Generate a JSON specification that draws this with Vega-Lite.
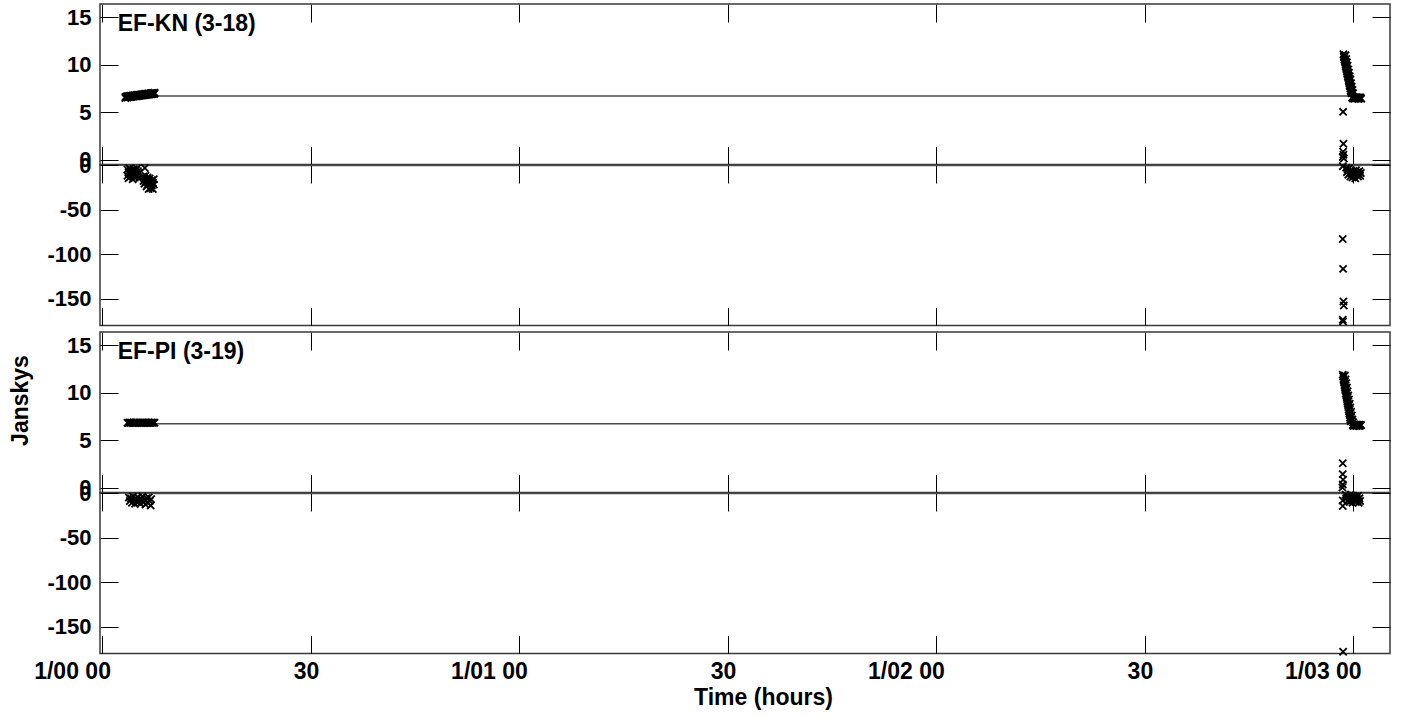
{
"$schema": "https://vega.github.io/schema/vega-lite/v6.json",
"background": "white",
"padding": {"left": 8, "top": 2, "right": 5, "bottom": 0},
"config": {
  "font": "Liberation Sans",
  "view": {"stroke": "#3a3a3a", "strokeWidth": 1.5},
  "axis": {"labelFont": "Liberation Sans", "labelFontWeight": "bold", "labelFontSize": 22, "labelColor": "black", "tickColor": "black", "tickWidth": 1, "tickSize": -18, "domain": false, "grid": false, "titleFont": "Liberation Sans", "titleFontWeight": "bold", "titleFontSize": 23, "titleColor": "black", "labelOverlap": false, "labelFlush": false, "labelBound": false}
},
"datasets": {
  "labels": [{"p": "KN", "t": 2.2, "v": 14.26, "label": "EF-KN (3-18)"}, {"p": "PI", "t": 2.2, "v": 14.26, "label": "EF-PI (3-19)"}],
  "model": [
    {"p": "KN", "k": "a", "t": 3.3, "v": 6.72}, {"p": "KN", "k": "a", "t": 181.2, "v": 6.72},
    {"p": "KN", "k": "p", "t": 3.3, "v": -0.5}, {"p": "KN", "k": "p", "t": 181.2, "v": -0.5},
    {"p": "PI", "k": "a", "t": 3.6, "v": 6.73}, {"p": "PI", "k": "a", "t": 181.2, "v": 6.73},
    {"p": "PI", "k": "p", "t": 3.6, "v": -0.5}, {"p": "PI", "k": "p", "t": 181.2, "v": -0.5}
  ],
  "pts": [
    {"p":"KN","k":"a","t":3.3,"v":6.5},{"p":"KN","k":"a","t":3.3,"v":6.62},
    {"p":"KN","k":"a","t":3.45,"v":6.58},{"p":"KN","k":"a","t":3.45,"v":6.66},
    {"p":"KN","k":"a","t":3.6,"v":6.55},{"p":"KN","k":"a","t":3.6,"v":6.7},
    {"p":"KN","k":"a","t":3.75,"v":6.6},{"p":"KN","k":"a","t":3.75,"v":6.68},
    {"p":"KN","k":"a","t":3.9,"v":6.62},{"p":"KN","k":"a","t":3.9,"v":6.72},
    {"p":"KN","k":"a","t":4.05,"v":6.6},{"p":"KN","k":"a","t":4.05,"v":6.74},
    {"p":"KN","k":"a","t":4.2,"v":6.64},{"p":"KN","k":"a","t":4.2,"v":6.72},
    {"p":"KN","k":"a","t":4.35,"v":6.66},{"p":"KN","k":"a","t":4.35,"v":6.76},
    {"p":"KN","k":"a","t":4.5,"v":6.65},{"p":"KN","k":"a","t":4.5,"v":6.78},
    {"p":"KN","k":"a","t":4.65,"v":6.68},{"p":"KN","k":"a","t":4.65,"v":6.8},
    {"p":"KN","k":"a","t":4.8,"v":6.7},{"p":"KN","k":"a","t":4.8,"v":6.78},
    {"p":"KN","k":"a","t":4.95,"v":6.7},{"p":"KN","k":"a","t":4.95,"v":6.82},
    {"p":"KN","k":"a","t":5.1,"v":6.72},{"p":"KN","k":"a","t":5.1,"v":6.84},
    {"p":"KN","k":"a","t":5.25,"v":6.74},{"p":"KN","k":"a","t":5.25,"v":6.82},
    {"p":"KN","k":"a","t":5.4,"v":6.75},{"p":"KN","k":"a","t":5.4,"v":6.86},
    {"p":"KN","k":"a","t":5.55,"v":6.76},{"p":"KN","k":"a","t":5.55,"v":6.88},
    {"p":"KN","k":"a","t":5.7,"v":6.78},{"p":"KN","k":"a","t":5.7,"v":6.9},
    {"p":"KN","k":"a","t":5.85,"v":6.8},{"p":"KN","k":"a","t":5.85,"v":6.88},
    {"p":"KN","k":"a","t":6.0,"v":6.8},{"p":"KN","k":"a","t":6.0,"v":6.92},
    {"p":"KN","k":"a","t":6.15,"v":6.82},{"p":"KN","k":"a","t":6.15,"v":6.94},
    {"p":"KN","k":"a","t":6.3,"v":6.84},{"p":"KN","k":"a","t":6.3,"v":6.92},
    {"p":"KN","k":"a","t":6.45,"v":6.85},{"p":"KN","k":"a","t":6.45,"v":6.96},
    {"p":"KN","k":"a","t":6.6,"v":6.86},{"p":"KN","k":"a","t":6.6,"v":6.98},
    {"p":"KN","k":"a","t":6.75,"v":6.88},{"p":"KN","k":"a","t":6.75,"v":6.96},
    {"p":"KN","k":"a","t":6.9,"v":6.9},{"p":"KN","k":"a","t":6.9,"v":7.0},
    {"p":"KN","k":"a","t":7.05,"v":6.9},{"p":"KN","k":"a","t":7.05,"v":7.02},
    {"p":"KN","k":"a","t":7.2,"v":6.92},{"p":"KN","k":"a","t":7.2,"v":7.04},
    {"p":"KN","k":"a","t":7.35,"v":6.94},{"p":"KN","k":"a","t":7.35,"v":7.02},
    {"p":"KN","k":"a","t":7.5,"v":6.95},{"p":"KN","k":"a","t":7.5,"v":7.05},

    {"p":"KN","k":"a","t":178.6,"v":11.1},{"p":"KN","k":"a","t":178.65,"v":10.9},{"p":"KN","k":"a","t":178.7,"v":10.75},{"p":"KN","k":"a","t":178.75,"v":10.55},
    {"p":"KN","k":"a","t":178.8,"v":10.4},{"p":"KN","k":"a","t":178.85,"v":10.2},{"p":"KN","k":"a","t":178.9,"v":10.0},{"p":"KN","k":"a","t":178.95,"v":9.85},
    {"p":"KN","k":"a","t":179.0,"v":9.65},{"p":"KN","k":"a","t":179.05,"v":9.5},{"p":"KN","k":"a","t":179.1,"v":9.3},{"p":"KN","k":"a","t":179.15,"v":9.1},
    {"p":"KN","k":"a","t":179.2,"v":8.95},{"p":"KN","k":"a","t":179.25,"v":8.75},{"p":"KN","k":"a","t":179.3,"v":8.6},{"p":"KN","k":"a","t":179.35,"v":8.4},
    {"p":"KN","k":"a","t":179.4,"v":8.2},{"p":"KN","k":"a","t":179.45,"v":8.05},{"p":"KN","k":"a","t":179.5,"v":7.85},{"p":"KN","k":"a","t":179.55,"v":7.7},
    {"p":"KN","k":"a","t":179.6,"v":7.5},{"p":"KN","k":"a","t":179.65,"v":7.3},{"p":"KN","k":"a","t":179.7,"v":7.15},{"p":"KN","k":"a","t":179.75,"v":7.0},
    {"p":"KN","k":"a","t":178.9,"v":11.0},{"p":"KN","k":"a","t":179.0,"v":10.6},{"p":"KN","k":"a","t":179.1,"v":10.25},{"p":"KN","k":"a","t":179.2,"v":9.9},
    {"p":"KN","k":"a","t":179.3,"v":9.5},{"p":"KN","k":"a","t":179.4,"v":9.15},{"p":"KN","k":"a","t":179.5,"v":8.8},{"p":"KN","k":"a","t":179.6,"v":8.45},
    {"p":"KN","k":"a","t":179.7,"v":8.05},{"p":"KN","k":"a","t":179.8,"v":7.7},{"p":"KN","k":"a","t":179.9,"v":7.35},{"p":"KN","k":"a","t":180.0,"v":7.0},
    {"p":"KN","k":"a","t":179.85,"v":6.55},{"p":"KN","k":"a","t":179.95,"v":6.45},{"p":"KN","k":"a","t":180.05,"v":6.6},{"p":"KN","k":"a","t":180.15,"v":6.42},
    {"p":"KN","k":"a","t":180.25,"v":6.55},{"p":"KN","k":"a","t":180.35,"v":6.48},{"p":"KN","k":"a","t":180.45,"v":6.6},{"p":"KN","k":"a","t":180.55,"v":6.45},
    {"p":"KN","k":"a","t":180.65,"v":6.55},{"p":"KN","k":"a","t":180.75,"v":6.4},{"p":"KN","k":"a","t":180.85,"v":6.58},{"p":"KN","k":"a","t":180.95,"v":6.47},
    {"p":"KN","k":"a","t":181.05,"v":6.55},{"p":"KN","k":"a","t":181.15,"v":6.43},
    {"p":"KN","k":"a","t":178.55,"v":5.05},{"p":"KN","k":"a","t":178.6,"v":1.7},{"p":"KN","k":"a","t":178.55,"v":0.85},{"p":"KN","k":"a","t":178.6,"v":0.55},
    {"p":"KN","k":"a","t":178.5,"v":0.3},{"p":"KN","k":"a","t":178.65,"v":0.15},

    {"p":"KN","k":"p","t":3.6,"v":-5},{"p":"KN","k":"p","t":3.6,"v":-12},
    {"p":"KN","k":"p","t":3.75,"v":-8},{"p":"KN","k":"p","t":3.75,"v":-15},
    {"p":"KN","k":"p","t":3.9,"v":-4},{"p":"KN","k":"p","t":3.9,"v":-10},
    {"p":"KN","k":"p","t":4.05,"v":-7},{"p":"KN","k":"p","t":4.05,"v":-13},
    {"p":"KN","k":"p","t":4.2,"v":-6},{"p":"KN","k":"p","t":4.2,"v":-11},
    {"p":"KN","k":"p","t":4.35,"v":-9},{"p":"KN","k":"p","t":4.35,"v":-16},
    {"p":"KN","k":"p","t":4.5,"v":-5},{"p":"KN","k":"p","t":4.5,"v":-12},
    {"p":"KN","k":"p","t":4.65,"v":-8},{"p":"KN","k":"p","t":4.65,"v":-14},
    {"p":"KN","k":"p","t":4.8,"v":-6},{"p":"KN","k":"p","t":4.8,"v":-10},
    {"p":"KN","k":"p","t":4.95,"v":-4},{"p":"KN","k":"p","t":4.95,"v":-13},
    {"p":"KN","k":"p","t":5.1,"v":-7},{"p":"KN","k":"p","t":5.1,"v":-11},
    {"p":"KN","k":"p","t":5.25,"v":-9},{"p":"KN","k":"p","t":5.25,"v":-15},
    {"p":"KN","k":"p","t":6.1,"v":-3.4},
    {"p":"KN","k":"p","t":5.9,"v":-13},{"p":"KN","k":"p","t":5.9,"v":-18},
    {"p":"KN","k":"p","t":6.05,"v":-15},{"p":"KN","k":"p","t":6.05,"v":-21},
    {"p":"KN","k":"p","t":6.2,"v":-12},{"p":"KN","k":"p","t":6.2,"v":-19},
    {"p":"KN","k":"p","t":6.35,"v":-16},{"p":"KN","k":"p","t":6.35,"v":-24},
    {"p":"KN","k":"p","t":6.5,"v":-14},{"p":"KN","k":"p","t":6.5,"v":-22},
    {"p":"KN","k":"p","t":6.65,"v":-18},{"p":"KN","k":"p","t":6.65,"v":-27},
    {"p":"KN","k":"p","t":6.8,"v":-15},{"p":"KN","k":"p","t":6.8,"v":-21},
    {"p":"KN","k":"p","t":6.95,"v":-19},{"p":"KN","k":"p","t":6.95,"v":-26},
    {"p":"KN","k":"p","t":7.1,"v":-17},{"p":"KN","k":"p","t":7.1,"v":-23},
    {"p":"KN","k":"p","t":7.25,"v":-20},{"p":"KN","k":"p","t":7.25,"v":-27},
    {"p":"KN","k":"p","t":7.4,"v":-16},{"p":"KN","k":"p","t":7.4,"v":-22},
    {"p":"KN","k":"p","t":179.0,"v":-3},{"p":"KN","k":"p","t":179.1,"v":-8},{"p":"KN","k":"p","t":179.2,"v":-5},{"p":"KN","k":"p","t":179.3,"v":-11},
    {"p":"KN","k":"p","t":179.4,"v":-4},{"p":"KN","k":"p","t":179.5,"v":-9},{"p":"KN","k":"p","t":179.6,"v":-13},{"p":"KN","k":"p","t":179.7,"v":-6},
    {"p":"KN","k":"p","t":179.8,"v":-10},{"p":"KN","k":"p","t":179.9,"v":-14},{"p":"KN","k":"p","t":180.0,"v":-7},{"p":"KN","k":"p","t":180.1,"v":-12},
    {"p":"KN","k":"p","t":180.2,"v":-9},{"p":"KN","k":"p","t":180.3,"v":-15},{"p":"KN","k":"p","t":180.4,"v":-6},{"p":"KN","k":"p","t":180.5,"v":-11},
    {"p":"KN","k":"p","t":180.6,"v":-8},{"p":"KN","k":"p","t":180.7,"v":-13},{"p":"KN","k":"p","t":180.8,"v":-10},{"p":"KN","k":"p","t":180.9,"v":-7},
    {"p":"KN","k":"p","t":181.0,"v":-12},{"p":"KN","k":"p","t":181.1,"v":-9},
    {"p":"KN","k":"p","t":178.5,"v":-1.5},{"p":"KN","k":"p","t":178.5,"v":-83},{"p":"KN","k":"p","t":178.55,"v":-116.5},{"p":"KN","k":"p","t":178.6,"v":-153},
    {"p":"KN","k":"p","t":178.65,"v":-157.5},{"p":"KN","k":"p","t":178.5,"v":-173.5},{"p":"KN","k":"p","t":178.55,"v":-175.5},

    {"p":"PI","k":"a","t":3.6,"v":6.85},{"p":"PI","k":"a","t":3.75,"v":6.82},{"p":"PI","k":"a","t":3.9,"v":6.88},{"p":"PI","k":"a","t":4.05,"v":6.84},
    {"p":"PI","k":"a","t":4.2,"v":6.86},{"p":"PI","k":"a","t":4.35,"v":6.83},{"p":"PI","k":"a","t":4.5,"v":6.87},{"p":"PI","k":"a","t":4.65,"v":6.85},
    {"p":"PI","k":"a","t":4.8,"v":6.82},{"p":"PI","k":"a","t":4.95,"v":6.88},{"p":"PI","k":"a","t":5.1,"v":6.84},{"p":"PI","k":"a","t":5.25,"v":6.86},
    {"p":"PI","k":"a","t":5.4,"v":6.83},{"p":"PI","k":"a","t":5.55,"v":6.87},{"p":"PI","k":"a","t":5.7,"v":6.85},{"p":"PI","k":"a","t":5.85,"v":6.82},
    {"p":"PI","k":"a","t":6.0,"v":6.88},{"p":"PI","k":"a","t":6.15,"v":6.84},{"p":"PI","k":"a","t":6.3,"v":6.86},{"p":"PI","k":"a","t":6.45,"v":6.83},
    {"p":"PI","k":"a","t":6.6,"v":6.87},{"p":"PI","k":"a","t":6.75,"v":6.85},{"p":"PI","k":"a","t":6.9,"v":6.82},{"p":"PI","k":"a","t":7.05,"v":6.88},
    {"p":"PI","k":"a","t":7.2,"v":6.84},{"p":"PI","k":"a","t":7.35,"v":6.86},{"p":"PI","k":"a","t":7.5,"v":6.85},
    {"p":"PI","k":"a","t":178.5,"v":11.9},{"p":"PI","k":"a","t":178.55,"v":11.7},{"p":"PI","k":"a","t":178.6,"v":11.45},{"p":"PI","k":"a","t":178.65,"v":11.25},
    {"p":"PI","k":"a","t":178.7,"v":11.05},{"p":"PI","k":"a","t":178.75,"v":10.8},{"p":"PI","k":"a","t":178.8,"v":10.6},{"p":"PI","k":"a","t":178.85,"v":10.4},
    {"p":"PI","k":"a","t":178.9,"v":10.2},{"p":"PI","k":"a","t":178.95,"v":9.95},{"p":"PI","k":"a","t":179.0,"v":9.75},{"p":"PI","k":"a","t":179.05,"v":9.55},
    {"p":"PI","k":"a","t":179.1,"v":9.35},{"p":"PI","k":"a","t":179.15,"v":9.1},{"p":"PI","k":"a","t":179.2,"v":8.9},{"p":"PI","k":"a","t":179.25,"v":8.7},
    {"p":"PI","k":"a","t":179.3,"v":8.5},{"p":"PI","k":"a","t":179.35,"v":8.25},{"p":"PI","k":"a","t":179.4,"v":8.05},{"p":"PI","k":"a","t":179.45,"v":7.85},
    {"p":"PI","k":"a","t":179.5,"v":7.65},{"p":"PI","k":"a","t":179.55,"v":7.4},{"p":"PI","k":"a","t":179.6,"v":7.2},{"p":"PI","k":"a","t":179.65,"v":7.0},
    {"p":"PI","k":"a","t":178.8,"v":11.8},{"p":"PI","k":"a","t":178.9,"v":11.4},{"p":"PI","k":"a","t":179.0,"v":11.0},{"p":"PI","k":"a","t":179.1,"v":10.55},
    {"p":"PI","k":"a","t":179.2,"v":10.15},{"p":"PI","k":"a","t":179.3,"v":9.7},{"p":"PI","k":"a","t":179.4,"v":9.3},{"p":"PI","k":"a","t":179.5,"v":8.85},
    {"p":"PI","k":"a","t":179.6,"v":8.45},{"p":"PI","k":"a","t":179.7,"v":8.0},{"p":"PI","k":"a","t":179.8,"v":7.6},{"p":"PI","k":"a","t":179.9,"v":7.2},
    {"p":"PI","k":"a","t":180.0,"v":6.9},
    {"p":"PI","k":"a","t":179.95,"v":6.6},{"p":"PI","k":"a","t":180.05,"v":6.5},{"p":"PI","k":"a","t":180.15,"v":6.68},{"p":"PI","k":"a","t":180.25,"v":6.55},
    {"p":"PI","k":"a","t":180.35,"v":6.62},{"p":"PI","k":"a","t":180.45,"v":6.5},{"p":"PI","k":"a","t":180.55,"v":6.66},{"p":"PI","k":"a","t":180.65,"v":6.55},
    {"p":"PI","k":"a","t":180.75,"v":6.6},{"p":"PI","k":"a","t":180.85,"v":6.5},{"p":"PI","k":"a","t":180.95,"v":6.65},{"p":"PI","k":"a","t":181.05,"v":6.55},
    {"p":"PI","k":"a","t":181.15,"v":6.6},
    {"p":"PI","k":"a","t":178.5,"v":2.6},{"p":"PI","k":"a","t":178.5,"v":1.45},{"p":"PI","k":"a","t":178.55,"v":0.85},{"p":"PI","k":"a","t":178.5,"v":0.35},
    {"p":"PI","k":"a","t":178.45,"v":0.05},

    {"p":"PI","k":"p","t":3.8,"v":-5},{"p":"PI","k":"p","t":3.95,"v":-9},{"p":"PI","k":"p","t":4.1,"v":-6},{"p":"PI","k":"p","t":4.25,"v":-11},
    {"p":"PI","k":"p","t":4.4,"v":-4},{"p":"PI","k":"p","t":4.55,"v":-8},{"p":"PI","k":"p","t":4.7,"v":-12},{"p":"PI","k":"p","t":4.85,"v":-6},
    {"p":"PI","k":"p","t":5.0,"v":-10},{"p":"PI","k":"p","t":5.15,"v":-5},{"p":"PI","k":"p","t":5.3,"v":-9},{"p":"PI","k":"p","t":5.45,"v":-12},
    {"p":"PI","k":"p","t":5.6,"v":-7},{"p":"PI","k":"p","t":5.75,"v":-4},{"p":"PI","k":"p","t":5.9,"v":-10},{"p":"PI","k":"p","t":6.05,"v":-8},
    {"p":"PI","k":"p","t":6.2,"v":-13},{"p":"PI","k":"p","t":6.35,"v":-6},{"p":"PI","k":"p","t":6.5,"v":-11},{"p":"PI","k":"p","t":6.65,"v":-5},
    {"p":"PI","k":"p","t":6.8,"v":-9},{"p":"PI","k":"p","t":6.95,"v":-14},{"p":"PI","k":"p","t":7.0,"v":-7},
    {"p":"PI","k":"p","t":178.9,"v":-2},{"p":"PI","k":"p","t":179.0,"v":-6},{"p":"PI","k":"p","t":179.1,"v":-3},{"p":"PI","k":"p","t":179.2,"v":-9},
    {"p":"PI","k":"p","t":179.3,"v":-4},{"p":"PI","k":"p","t":179.4,"v":-7},{"p":"PI","k":"p","t":179.5,"v":-10},{"p":"PI","k":"p","t":179.6,"v":-2},
    {"p":"PI","k":"p","t":179.7,"v":-8},{"p":"PI","k":"p","t":179.8,"v":-5},{"p":"PI","k":"p","t":179.9,"v":-11},{"p":"PI","k":"p","t":180.0,"v":-3},
    {"p":"PI","k":"p","t":180.1,"v":-7},{"p":"PI","k":"p","t":180.2,"v":-9},{"p":"PI","k":"p","t":180.3,"v":-4},{"p":"PI","k":"p","t":180.4,"v":-10},
    {"p":"PI","k":"p","t":180.5,"v":-6},{"p":"PI","k":"p","t":180.6,"v":-8},{"p":"PI","k":"p","t":180.7,"v":-3},{"p":"PI","k":"p","t":180.8,"v":-11},
    {"p":"PI","k":"p","t":180.9,"v":-6},{"p":"PI","k":"p","t":181.0,"v":-9},
    {"p":"PI","k":"p","t":178.5,"v":-8.5},{"p":"PI","k":"p","t":178.5,"v":-14.5},{"p":"PI","k":"p","t":178.55,"v":-178}
  ]
},
"spacing": 0,
"vconcat": [
  {"spacing": 0, "bounds": "flush", "vconcat": [
    {"width": 1290, "height": 160.5,
     "resolve": {"axis": {"x": "independent", "y": "independent"}},
     "layer": [
       {"data": {"name": "model"}, "transform": [{"filter": "datum.p === 'KN' && datum.k === 'a'"}],
        "mark": {"type": "line", "color": "#4a4a4a", "strokeWidth": 1.5},
        "encoding": {
          "x": {"field": "t", "type": "quantitative", "scale": {"domain": [-0.35, 185.3], "nice": false, "zero": false}, "axis": {"orient": "top", "values": [0,30,60,90,120,150,180], "labels": false, "title": null}},
          "y": {"field": "v", "type": "quantitative", "scale": {"domain": [-0.48, 16.38], "nice": false, "zero": false}, "axis": {"orient": "right", "values": [0,5,10,15], "labels": false, "title": null}}}},
       {"data": {"name": "pts"}, "transform": [{"filter": "datum.p === 'KN' && datum.k === 'a'"}],
        "mark": {"type": "point", "shape": "M-1,-1L1,1M-1,1L1,-1", "filled": false, "color": "black", "strokeWidth": 1.8, "size": 52, "opacity": 1},
        "encoding": {
          "x": {"field": "t", "type": "quantitative", "scale": {"domain": [-0.35, 185.3], "nice": false, "zero": false}, "axis": {"orient": "bottom", "values": [0,30,60,90,120,150,180], "labels": false, "title": null}},
          "y": {"field": "v", "type": "quantitative", "scale": {"domain": [-0.48, 16.38], "nice": false, "zero": false}, "axis": {"orient": "left", "values": [0,5,10,15], "labelExpr": "'' + datum.value", "labelPadding": 27, "title": null}}}},
       {"data": {"name": "labels"}, "transform": [{"filter": "datum.p === 'KN'"}],
        "mark": {"type": "text", "align": "left", "baseline": "middle", "font": "Liberation Sans", "fontWeight": "bold", "fontSize": 23, "color": "black"},
        "encoding": {
          "x": {"field": "t", "type": "quantitative", "scale": {"domain": [-0.35, 185.3], "nice": false, "zero": false}, "axis": null},
          "y": {"field": "v", "type": "quantitative", "scale": {"domain": [-0.48, 16.38], "nice": false, "zero": false}, "axis": null},
          "text": {"field": "label"}}}
     ]},
    {"width": 1290, "height": 160.5,
     "resolve": {"axis": {"x": "independent", "y": "independent"}},
     "layer": [
       {"data": {"name": "model"}, "transform": [{"filter": "datum.p === 'KN' && datum.k === 'p'"}],
        "mark": {"type": "line", "color": "#4a4a4a", "strokeWidth": 1.5},
        "encoding": {
          "x": {"field": "t", "type": "quantitative", "scale": {"domain": [-0.35, 185.3], "nice": false, "zero": false}, "axis": {"orient": "top", "values": [0,30,60,90,120,150,180], "labels": false, "title": null}},
          "y": {"field": "v", "type": "quantitative", "scale": {"domain": [-180, 0], "nice": false, "zero": false}, "axis": {"orient": "right", "values": [-150,-100,-50,0], "labels": false, "title": null}}}},
       {"data": {"name": "pts"}, "transform": [{"filter": "datum.p === 'KN' && datum.k === 'p'"}],
        "mark": {"type": "point", "shape": "M-1,-1L1,1M-1,1L1,-1", "filled": false, "color": "black", "strokeWidth": 1.8, "size": 52, "opacity": 1},
        "encoding": {
          "x": {"field": "t", "type": "quantitative", "scale": {"domain": [-0.35, 185.3], "nice": false, "zero": false}, "axis": {"orient": "bottom", "values": [0,30,60,90,120,150,180], "labels": false, "title": null}},
          "y": {"field": "v", "type": "quantitative", "scale": {"domain": [-180, 0], "nice": false, "zero": false}, "axis": {"orient": "left", "values": [-150,-100,-50,0], "labelExpr": "'' + datum.value", "labelPadding": 27, "title": null}}}}
     ]}
  ]},
  {"spacing": 0, "bounds": "flush", "vconcat": [
    {"width": 1290, "height": 160.5,
     "resolve": {"axis": {"x": "independent", "y": "independent"}},
     "layer": [
       {"data": {"name": "model"}, "transform": [{"filter": "datum.p === 'PI' && datum.k === 'a'"}],
        "mark": {"type": "line", "color": "#4a4a4a", "strokeWidth": 1.5},
        "encoding": {
          "x": {"field": "t", "type": "quantitative", "scale": {"domain": [-0.35, 185.3], "nice": false, "zero": false}, "axis": {"orient": "top", "values": [0,30,60,90,120,150,180], "labels": false, "title": null}},
          "y": {"field": "v", "type": "quantitative", "scale": {"domain": [-0.48, 16.38], "nice": false, "zero": false}, "axis": {"orient": "right", "values": [0,5,10,15], "labels": false, "title": null}}}},
       {"data": {"name": "pts"}, "transform": [{"filter": "datum.p === 'PI' && datum.k === 'a'"}],
        "mark": {"type": "point", "shape": "M-1,-1L1,1M-1,1L1,-1", "filled": false, "color": "black", "strokeWidth": 1.8, "size": 52, "opacity": 1},
        "encoding": {
          "x": {"field": "t", "type": "quantitative", "scale": {"domain": [-0.35, 185.3], "nice": false, "zero": false}, "axis": {"orient": "bottom", "values": [0,30,60,90,120,150,180], "labels": false, "title": null}},
          "y": {"field": "v", "type": "quantitative", "scale": {"domain": [-0.48, 16.38], "nice": false, "zero": false}, "axis": {"orient": "left", "values": [0,5,10,15], "labelExpr": "'' + datum.value", "labelPadding": 27, "title": "Janskys", "titleX": -80, "titleY": 68, "titleAngle": -90, "titleAlign": "center", "titleBaseline": "middle"}}}},
       {"data": {"name": "labels"}, "transform": [{"filter": "datum.p === 'PI'"}],
        "mark": {"type": "text", "align": "left", "baseline": "middle", "font": "Liberation Sans", "fontWeight": "bold", "fontSize": 23, "color": "black"},
        "encoding": {
          "x": {"field": "t", "type": "quantitative", "scale": {"domain": [-0.35, 185.3], "nice": false, "zero": false}, "axis": null},
          "y": {"field": "v", "type": "quantitative", "scale": {"domain": [-0.48, 16.38], "nice": false, "zero": false}, "axis": null},
          "text": {"field": "label"}}}
     ]},
    {"width": 1290, "height": 160.5,
     "resolve": {"axis": {"x": "independent", "y": "independent"}},
     "layer": [
       {"data": {"name": "model"}, "transform": [{"filter": "datum.p === 'PI' && datum.k === 'p'"}],
        "mark": {"type": "line", "color": "#4a4a4a", "strokeWidth": 1.5},
        "encoding": {
          "x": {"field": "t", "type": "quantitative", "scale": {"domain": [-0.35, 185.3], "nice": false, "zero": false}, "axis": {"orient": "top", "values": [0,30,60,90,120,150,180], "labels": false, "title": null}},
          "y": {"field": "v", "type": "quantitative", "scale": {"domain": [-180, 0], "nice": false, "zero": false}, "axis": {"orient": "right", "values": [-150,-100,-50,0], "labels": false, "title": null}}}},
       {"data": {"name": "pts"}, "transform": [{"filter": "datum.p === 'PI' && datum.k === 'p'"}],
        "mark": {"type": "point", "shape": "M-1,-1L1,1M-1,1L1,-1", "filled": false, "color": "black", "strokeWidth": 1.8, "size": 52, "opacity": 1},
        "encoding": {
          "x": {"field": "t", "type": "quantitative", "scale": {"domain": [-0.35, 185.3], "nice": false, "zero": false}, "axis": {"orient": "bottom", "values": [0,30,60,90,120,150,180], "labelExpr": "datum.value == 0 ? '1/00 00' : datum.value == 60 ? '1/01 00' : datum.value == 120 ? '1/02 00' : datum.value == 180 ? '1/03 00' : '30'", "labelAlign": "right", "labelOffset": 8, "labelBaseline": "top", "labelFontSize": 23, "labelPadding": 25, "title": "Time (hours)", "titleX": 663, "titleY": 44, "titleAlign": "center", "titleBaseline": "middle"}},
          "y": {"field": "v", "type": "quantitative", "scale": {"domain": [-180, 0], "nice": false, "zero": false}, "axis": {"orient": "left", "values": [-150,-100,-50,0], "labelExpr": "'' + datum.value", "labelPadding": 27, "title": null}}}}
     ]}
  ]}
]
}
